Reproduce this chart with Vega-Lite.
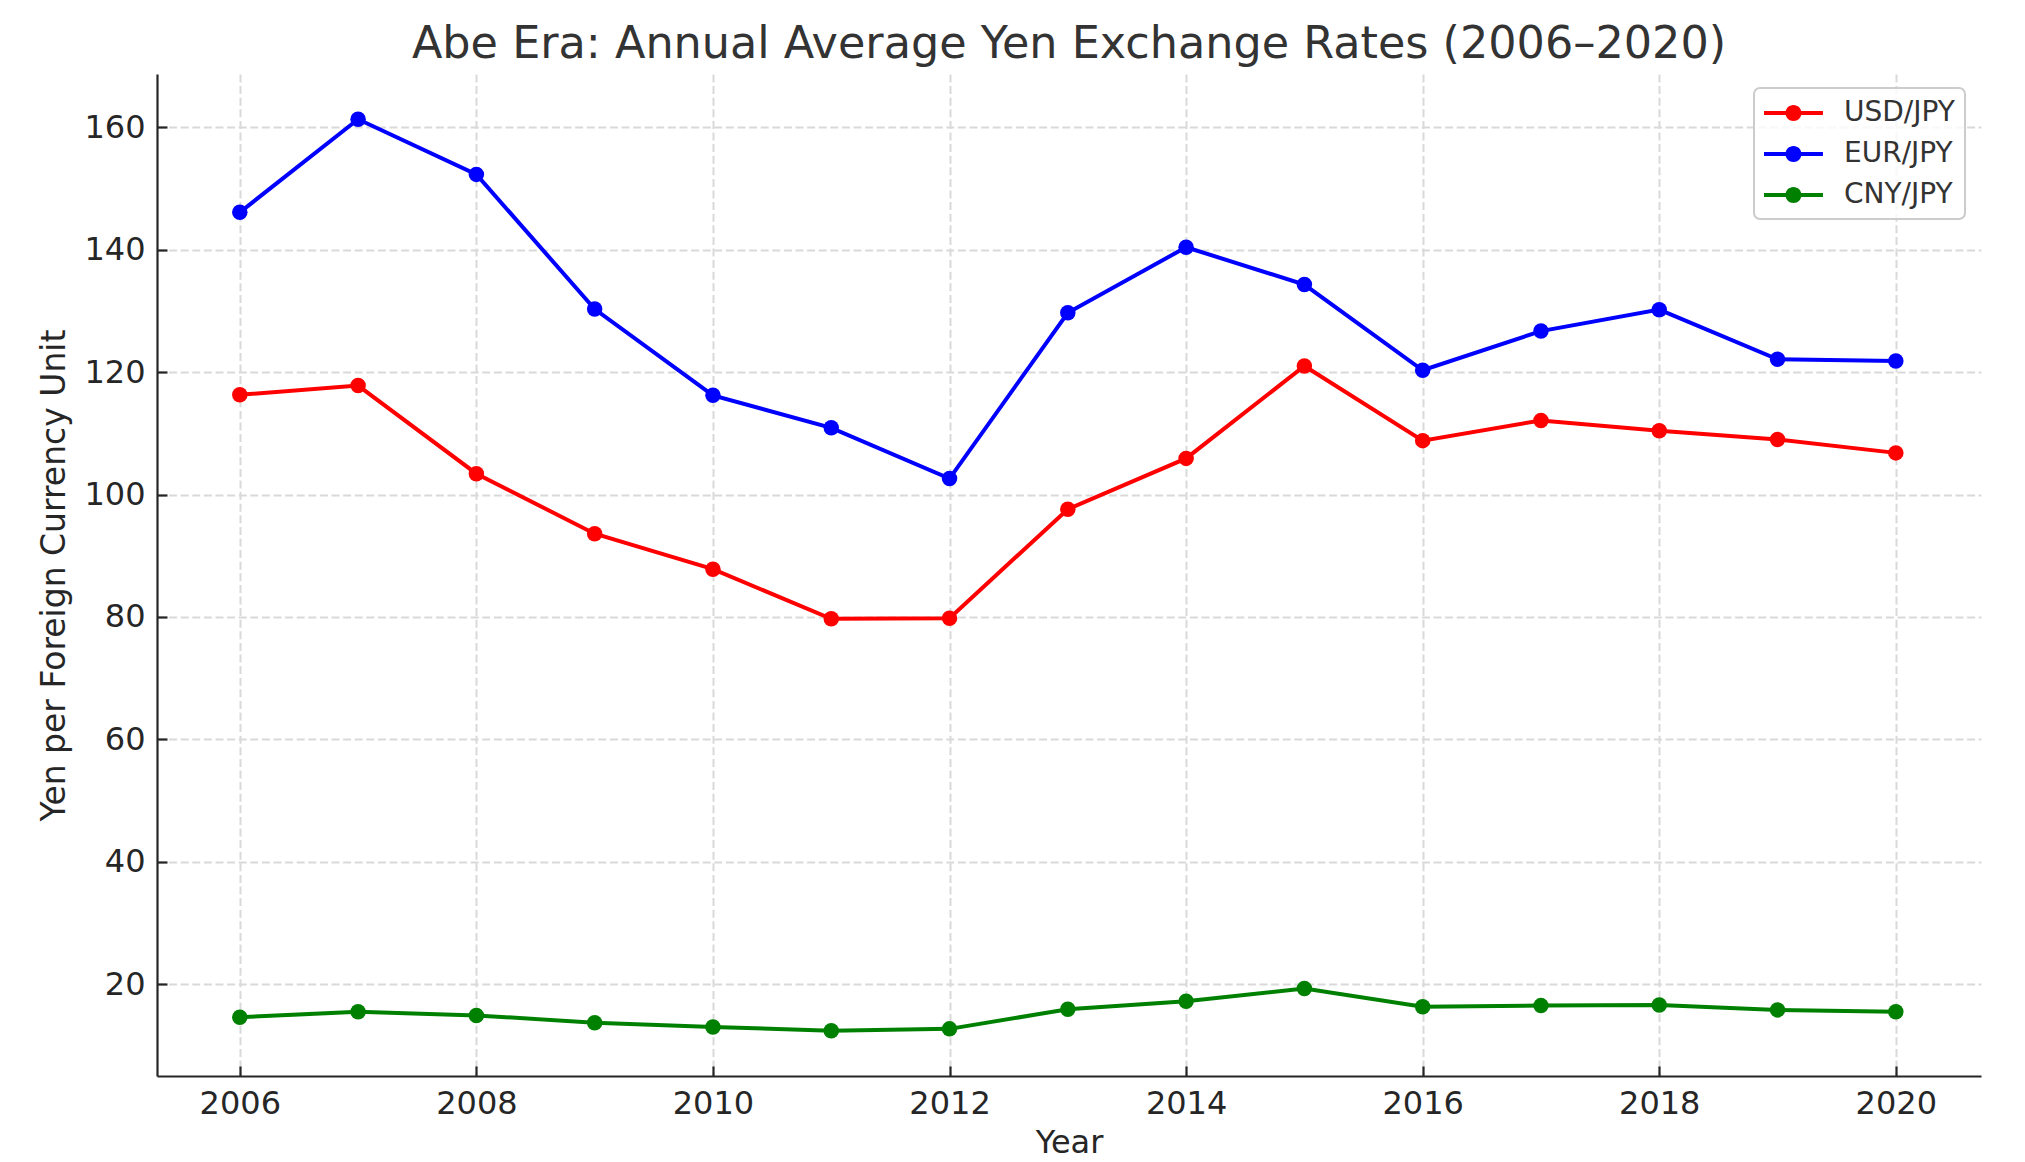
{
  "$schema": "https://vega.github.io/schema/vega-lite/v6.json",
  "width": 1824,
  "height": 1002,
  "autosize": {"type": "none"},
  "padding": {"left": 157, "top": 74, "right": 44, "bottom": 86},
  "background": "white",
  "title": {
    "text": "Abe Era: Annual Average Yen Exchange Rates (2006–2020)",
    "fontSize": 44.5,
    "font": "DejaVu Sans",
    "fontWeight": "normal",
    "color": "#333333",
    "baseline": "alphabetic",
    "offset": -28,
    "anchor": "middle"
  },
  "data": {
    "values": [
      {"year": 2006, "pair": "USD/JPY", "rate": 116.3},
      {"year": 2007, "pair": "USD/JPY", "rate": 117.8},
      {"year": 2008, "pair": "USD/JPY", "rate": 103.4},
      {"year": 2009, "pair": "USD/JPY", "rate": 93.6},
      {"year": 2010, "pair": "USD/JPY", "rate": 87.8},
      {"year": 2011, "pair": "USD/JPY", "rate": 79.7},
      {"year": 2012, "pair": "USD/JPY", "rate": 79.8},
      {"year": 2013, "pair": "USD/JPY", "rate": 97.6},
      {"year": 2014, "pair": "USD/JPY", "rate": 105.9},
      {"year": 2015, "pair": "USD/JPY", "rate": 121.0},
      {"year": 2016, "pair": "USD/JPY", "rate": 108.8},
      {"year": 2017, "pair": "USD/JPY", "rate": 112.1},
      {"year": 2018, "pair": "USD/JPY", "rate": 110.4},
      {"year": 2019, "pair": "USD/JPY", "rate": 109.0},
      {"year": 2020, "pair": "USD/JPY", "rate": 106.8},
      {"year": 2006, "pair": "EUR/JPY", "rate": 146.1},
      {"year": 2007, "pair": "EUR/JPY", "rate": 161.3},
      {"year": 2008, "pair": "EUR/JPY", "rate": 152.3},
      {"year": 2009, "pair": "EUR/JPY", "rate": 130.3},
      {"year": 2010, "pair": "EUR/JPY", "rate": 116.2},
      {"year": 2011, "pair": "EUR/JPY", "rate": 110.9},
      {"year": 2012, "pair": "EUR/JPY", "rate": 102.6},
      {"year": 2013, "pair": "EUR/JPY", "rate": 129.7},
      {"year": 2014, "pair": "EUR/JPY", "rate": 140.4},
      {"year": 2015, "pair": "EUR/JPY", "rate": 134.3},
      {"year": 2016, "pair": "EUR/JPY", "rate": 120.3},
      {"year": 2017, "pair": "EUR/JPY", "rate": 126.7},
      {"year": 2018, "pair": "EUR/JPY", "rate": 130.2},
      {"year": 2019, "pair": "EUR/JPY", "rate": 122.1},
      {"year": 2020, "pair": "EUR/JPY", "rate": 121.8},
      {"year": 2006, "pair": "CNY/JPY", "rate": 14.6},
      {"year": 2007, "pair": "CNY/JPY", "rate": 15.5},
      {"year": 2008, "pair": "CNY/JPY", "rate": 14.9},
      {"year": 2009, "pair": "CNY/JPY", "rate": 13.7},
      {"year": 2010, "pair": "CNY/JPY", "rate": 13.0},
      {"year": 2011, "pair": "CNY/JPY", "rate": 12.4},
      {"year": 2012, "pair": "CNY/JPY", "rate": 12.7},
      {"year": 2013, "pair": "CNY/JPY", "rate": 15.9},
      {"year": 2014, "pair": "CNY/JPY", "rate": 17.2},
      {"year": 2015, "pair": "CNY/JPY", "rate": 19.3},
      {"year": 2016, "pair": "CNY/JPY", "rate": 16.3},
      {"year": 2017, "pair": "CNY/JPY", "rate": 16.5},
      {"year": 2018, "pair": "CNY/JPY", "rate": 16.6},
      {"year": 2019, "pair": "CNY/JPY", "rate": 15.8},
      {"year": 2020, "pair": "CNY/JPY", "rate": 15.5}
    ]
  },
  "mark": {"type": "line", "strokeWidth": 4, "point": {"filled": true, "size": 240, "opacity": 1}},
  "encoding": {
    "x": {
      "field": "year",
      "type": "quantitative",
      "scale": {"domain": [2005.3, 2020.72], "nice": false, "zero": false},
      "axis": {
        "values": [2006, 2008, 2010, 2012, 2014, 2016, 2018, 2020],
        "format": "d",
        "title": "Year",
        "titlePadding": 8
      }
    },
    "y": {
      "field": "rate",
      "type": "quantitative",
      "scale": {"domain": [5, 168.7], "nice": false, "zero": false},
      "axis": {
        "values": [20, 40, 60, 80, 100, 120, 140, 160],
        "title": "Yen per Foreign Currency Unit",
        "titleFontSize": 33,
        "titlePadding": 12
      }
    },
    "color": {
      "field": "pair",
      "type": "nominal",
      "scale": {"domain": ["USD/JPY", "EUR/JPY", "CNY/JPY"], "range": ["#ff0000", "#0000ff", "#008000"]},
      "legend": {
        "title": null,
        "orient": "none",
        "legendX": 1597,
        "legendY": 14,
        "direction": "vertical",
        "padding": 10,
        "strokeColor": "#cccccc",
        "cornerRadius": 6,
        "fillColor": "rgba(255,255,255,0.8)",
        "labelFontSize": 28,
        "labelFont": "DejaVu Sans",
        "labelColor": "#333333",
        "labelOffset": 50,
        "rowPadding": 12,
        "symbolSize": 900,
        "symbolType": "M-1,-0.133L2.93,-0.133L2.93,0.133L-1,0.133Z M1.5,0 A0.535,0.535 0 1 1 0.43,0 A0.535,0.535 0 1 1 1.5,0 Z",
        "symbolStrokeWidth": 0,
        "symbolOpacity": 1,
        "encode": {
          "legend": {
            "update": {
              "strokeWidth": {"value": 2}
            }
          },
          "symbols": {
            "update": {
              "fill": {"scale": "color", "field": "value"},
              "opacity": {"value": 1}
            }
          }
        }
      }
    }
  },
  "config": {
    "view": {"stroke": null},
    "axis": {
      "domainColor": "#262626",
      "domainWidth": 2.2,
      "tickColor": "#262626",
      "tickWidth": 2.2,
      "tickSize": -10,
      "labelPadding": 22,
      "labelFlush": false,
      "labelFontSize": 32,
      "labelFont": "DejaVu Sans",
      "labelColor": "#262626",
      "titleFontSize": 32,
      "titleFont": "DejaVu Sans",
      "titleFontWeight": "normal",
      "titleColor": "#262626",
      "grid": true,
      "gridColor": "#d9d9d9",
      "gridDash": [8, 3.6],
      "gridWidth": 2
    }
  }
}
